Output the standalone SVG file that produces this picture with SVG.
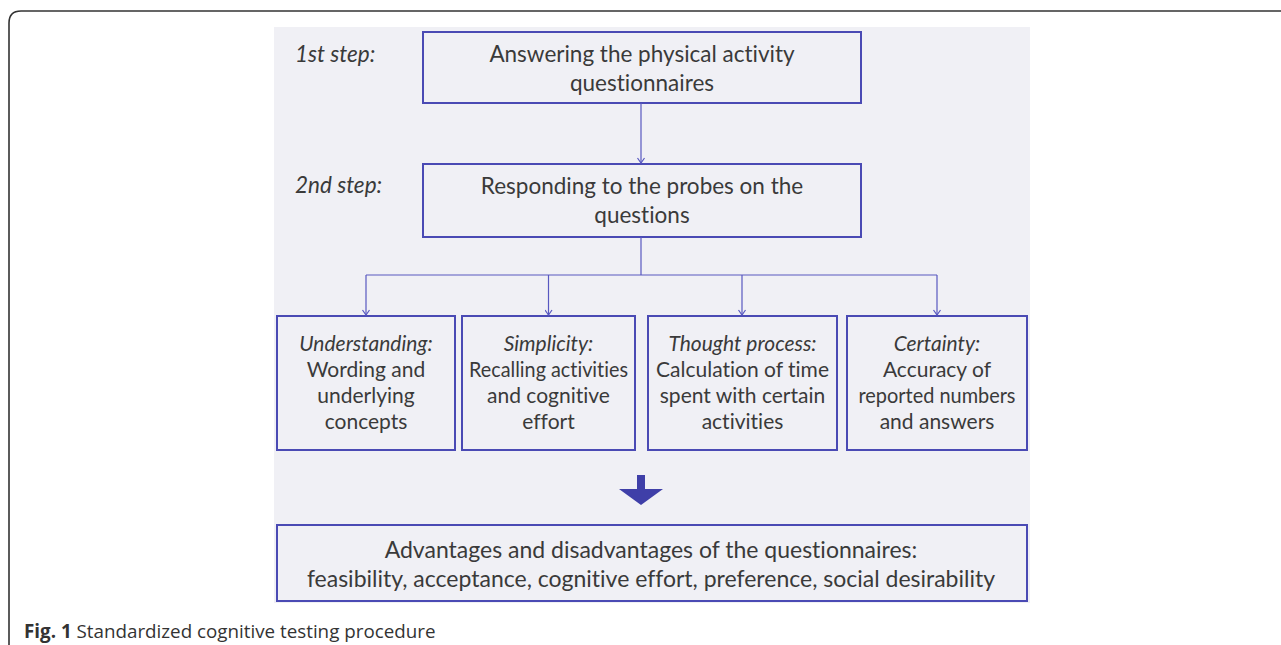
<svg xmlns="http://www.w3.org/2000/svg" width="1281" height="645" viewBox="0 0 1281 645">
<style>
.box{fill:none;stroke:#4A4AB4;stroke-width:2}
.t{font-family:Lato,"Liberation Sans",sans-serif;font-size:21px;fill:#3A3A3A;text-anchor:middle;font-variant-ligatures:none}
.big{font-size:22.5px}
.res{font-size:23px}
.i{font-style:italic}
.lbl{font-family:Lato,"Liberation Sans",sans-serif;font-size:22.5px;fill:#3A3A3A;font-style:italic}
.con{fill:none;stroke:#5858C0;stroke-width:1.2}
.cap{font-family:"Open Sans","Liberation Sans",sans-serif;font-size:18.8px;fill:#333}
</style>
<defs>
<marker id="ah" markerWidth="8" markerHeight="8" refX="7" refY="4" orient="auto" markerUnits="userSpaceOnUse" viewBox="0 0 8 8">
<polyline points="2,0.5 7,4 2,7.5" fill="none" stroke="#5858C0" stroke-width="1.2"/>
</marker>
</defs>
<rect width="1281" height="645" fill="#fff"/>
<path d="M9,645 V23 Q9,11 21,11 H1281" fill="none" stroke="#333" stroke-width="1.6"/>
<rect x="274" y="27" width="756" height="576" fill="#F0F0F5"/>
<text class="lbl" x="295" y="62">1st step:</text>
<text class="lbl" x="295" y="193">2nd step:</text>
<g id="step1">
<rect class="box" x="423" y="32" width="438" height="71"/>
<text class="t big" x="642" y="62">Answering the physical activity</text>
<text class="t big" x="642" y="91">questionnaires</text>
</g>
<g id="step2">
<rect class="box" x="423" y="164" width="438" height="73"/>
<text class="t big" x="642" y="194">Responding to the probes on the</text>
<text class="t big" x="642" y="223">questions</text>
</g>
<g id="understanding">
<rect class="box" x="277" y="316" width="178" height="134"/>
<text class="t i" x="366" y="351">Understanding:</text>
<text class="t" x="366" y="377">Wording and</text>
<text class="t" x="366" y="403">underlying</text>
<text class="t" x="366" y="429">concepts</text>
</g>
<g id="simplicity">
<rect class="box" x="462" y="316" width="173" height="134"/>
<text class="t i" x="548.5" y="351">Simplicity:</text>
<text class="t" x="548.5" y="377" textLength="159" lengthAdjust="spacingAndGlyphs">Recalling activities</text>
<text class="t" x="548.5" y="403">and cognitive</text>
<text class="t" x="548.5" y="429">effort</text>
</g>
<g id="thought">
<rect class="box" x="648" y="316" width="189" height="134"/>
<text class="t i" x="742.5" y="351">Thought process:</text>
<text class="t" x="742.5" y="377">Calculation of time</text>
<text class="t" x="742.5" y="403">spent with certain</text>
<text class="t" x="742.5" y="429">activities</text>
</g>
<g id="certainty">
<rect class="box" x="847" y="316" width="180" height="134"/>
<text class="t i" x="937" y="351">Certainty:</text>
<text class="t" x="937" y="377">Accuracy of</text>
<text class="t" x="937" y="403" textLength="157" lengthAdjust="spacingAndGlyphs">reported numbers</text>
<text class="t" x="937" y="429">and answers</text>
</g>
<g id="result">
<rect class="box" x="277" y="525" width="750" height="76"/>
<text class="t res" x="651" y="558">Advantages and disadvantages of the questionnaires:</text>
<text class="t res" x="651" y="587">feasibility, acceptance, cognitive effort, preference, social desirability</text>
</g>
<g id="connectors">
<line class="con" x1="641" y1="103" x2="641" y2="163" marker-end="url(#ah)"/>
<polyline class="con" points="641,237 641,275"/>
<line class="con" x1="366" y1="275" x2="937" y2="275"/>
<line class="con" x1="366" y1="275" x2="366" y2="315" marker-end="url(#ah)"/>
<line class="con" x1="548.5" y1="275" x2="548.5" y2="315" marker-end="url(#ah)"/>
<line class="con" x1="742" y1="275" x2="742" y2="315" marker-end="url(#ah)"/>
<line class="con" x1="937" y1="275" x2="937" y2="315" marker-end="url(#ah)"/>
<polygon points="637,475 645,475 645,489 663,489 641,505 619,489 637,489" fill="#3F3FA8"/>
</g>
<text class="cap" x="24" y="638"><tspan font-weight="bold">Fig. 1</tspan> Standardized cognitive testing procedure</text>
</svg>
